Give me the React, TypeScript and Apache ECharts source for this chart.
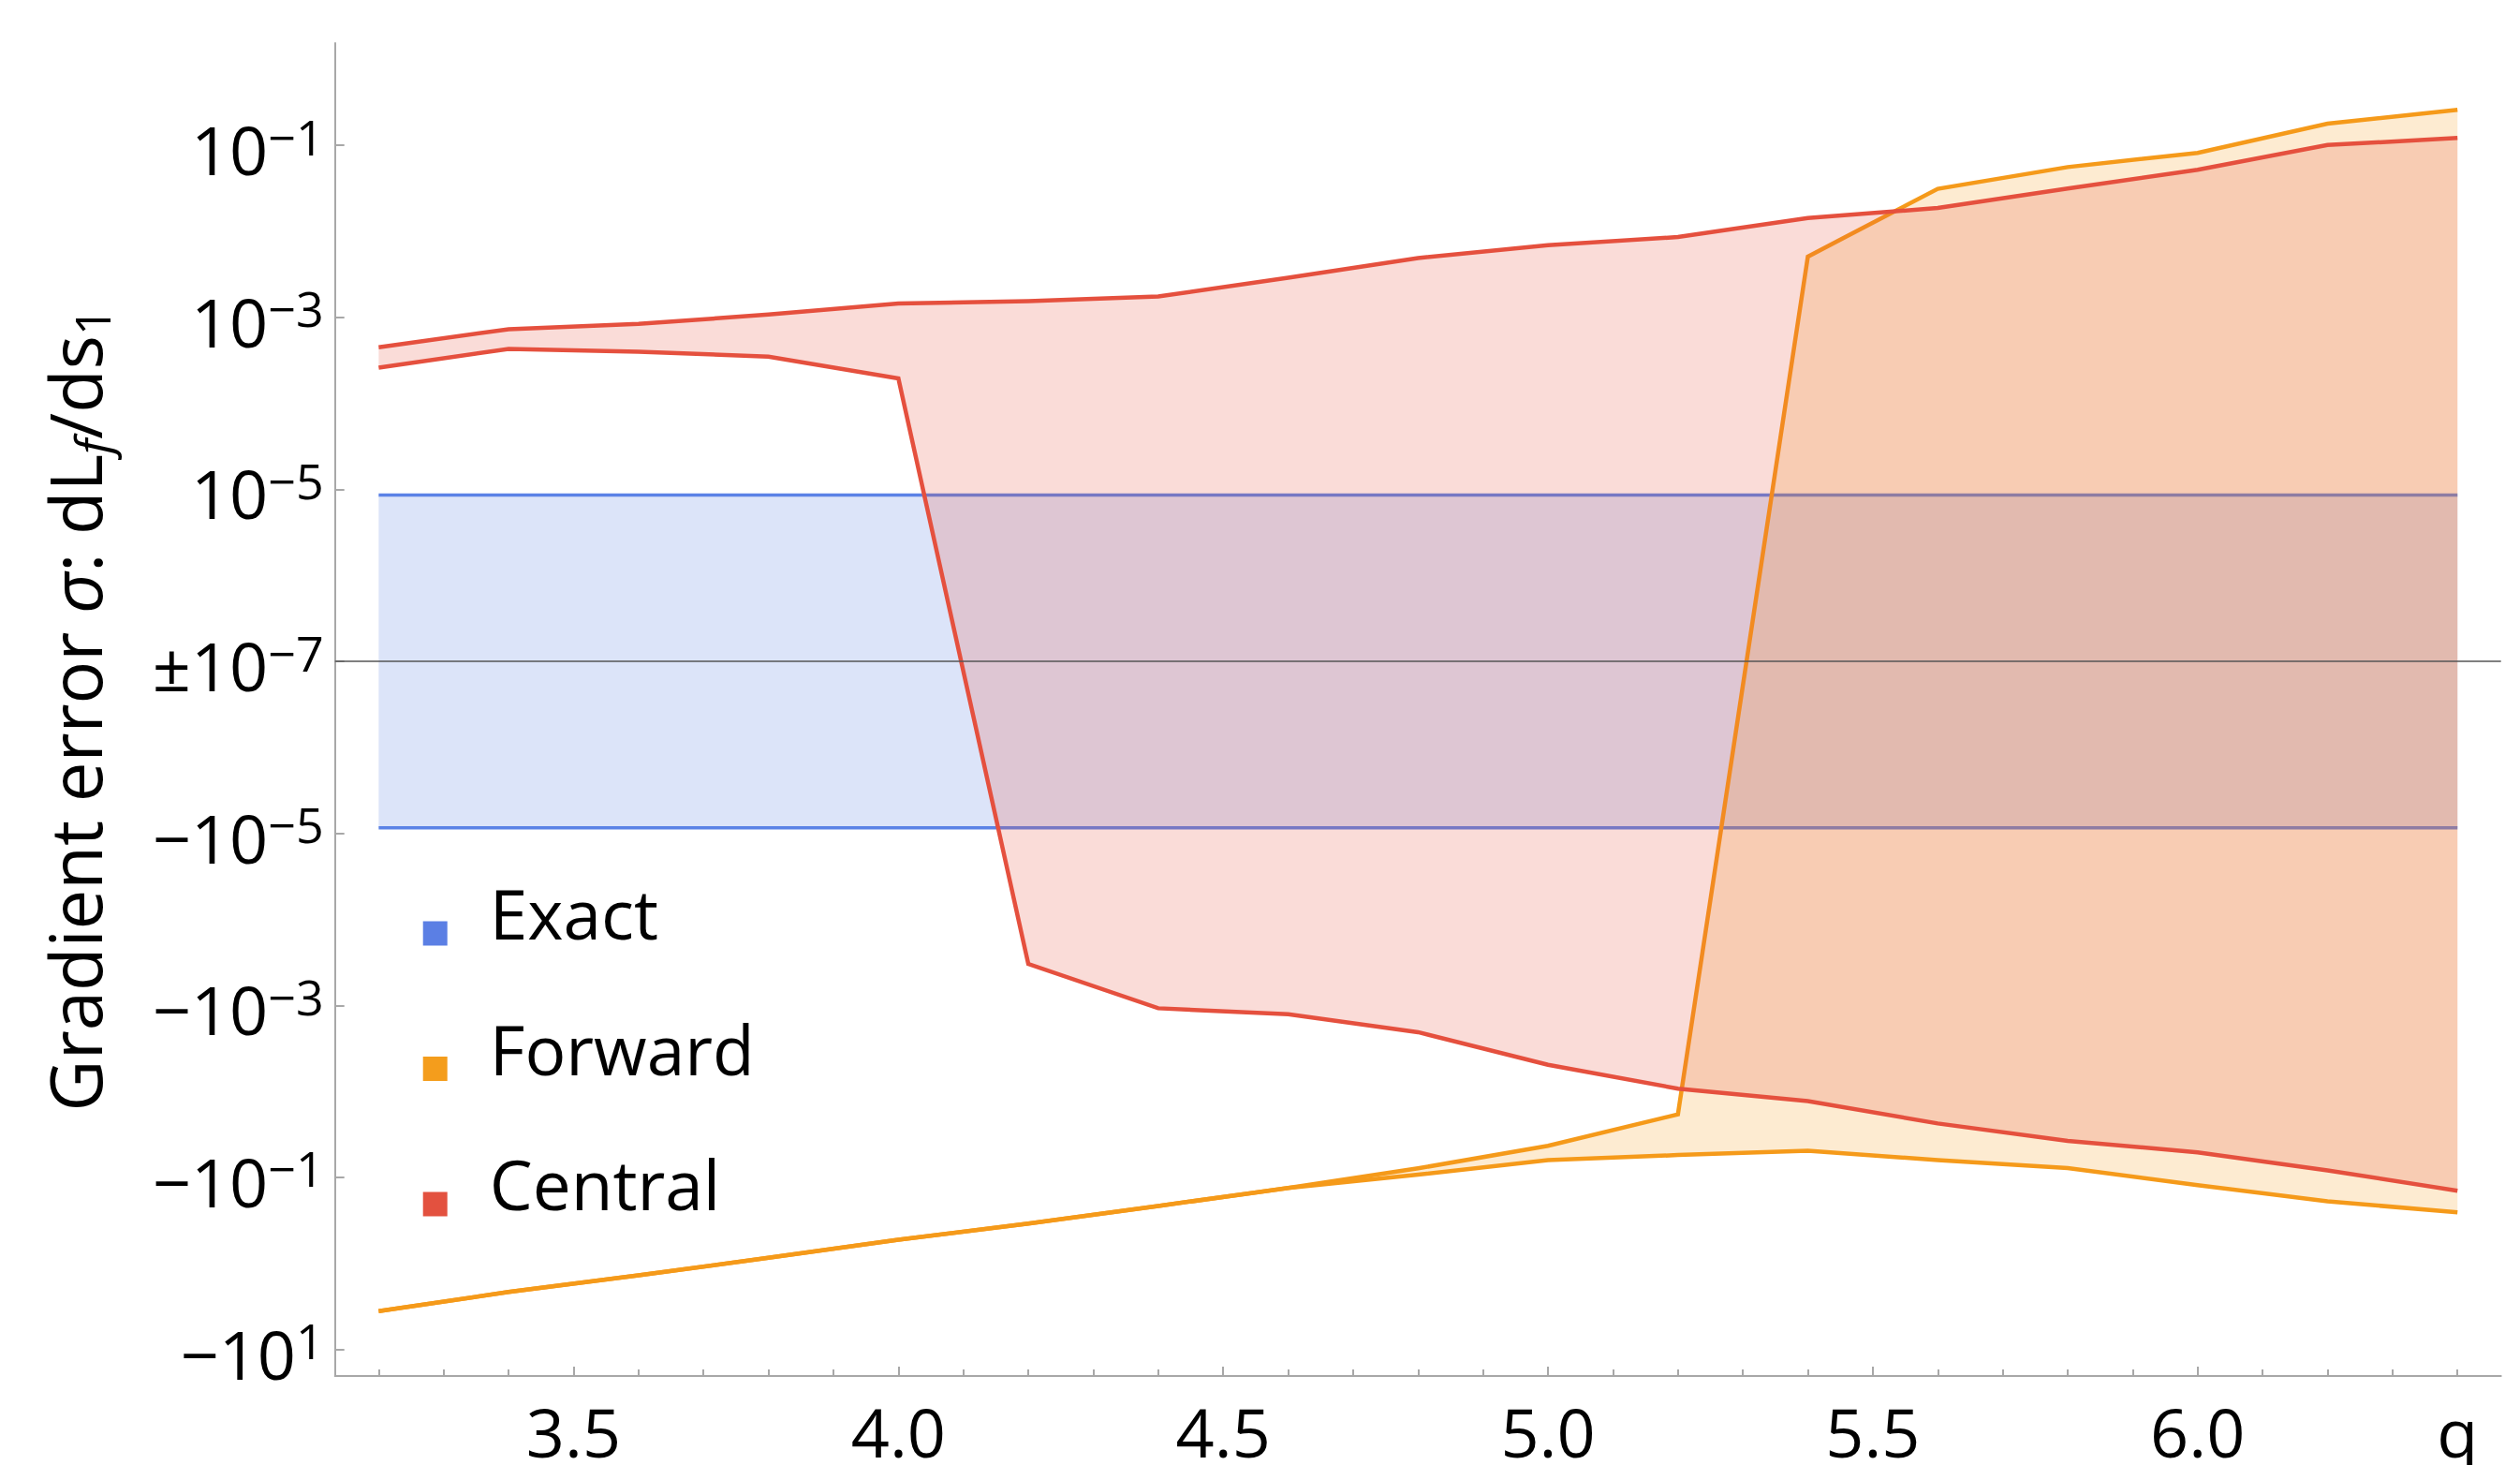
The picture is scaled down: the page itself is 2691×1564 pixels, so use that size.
import React, { useEffect, useRef } from "react";
import * as echarts from "echarts";

// ---------- data ----------
const qValues = [3.2, 3.4, 3.6, 3.8, 4.0, 4.2, 4.4, 4.6, 4.8, 5.0, 5.2, 5.4, 5.6, 5.8, 6.0, 6.2, 6.4];

const exactUpper = [8.6e-6, 8.6e-6, 8.6e-6, 8.6e-6, 8.6e-6, 8.6e-6, 8.6e-6, 8.6e-6, 8.6e-6, 8.6e-6, 8.6e-6, 8.6e-6, 8.6e-6, 8.6e-6, 8.6e-6, 8.6e-6, 8.6e-6];
const exactLower = [-8.6e-6, -8.6e-6, -8.6e-6, -8.6e-6, -8.6e-6, -8.6e-6, -8.6e-6, -8.6e-6, -8.6e-6, -8.6e-6, -8.6e-6, -8.6e-6, -8.6e-6, -8.6e-6, -8.6e-6, -8.6e-6, -8.6e-6];

const forwardUpper = [-3.6, -2.15, -1.38, -0.86, -0.53, -0.345, -0.215, -0.133, -0.0785, -0.043, -0.0185, 0.0051, 0.0313, 0.056, 0.082, 0.179, 0.26];
const forwardLower = [-3.6, -2.15, -1.38, -0.86, -0.53, -0.345, -0.215, -0.133, -0.093, -0.063, -0.055, -0.049, -0.063, -0.078, -0.123, -0.19, -0.255];

const centralUpper = [4.5e-4, 7.3e-4, 8.4e-4, 1.08e-3, 1.45e-3, 1.55e-3, 1.75e-3, 2.9e-3, 4.9e-3, 6.9e-3, 8.6e-3, 0.0143, 0.0187, 0.0315, 0.052, 0.101, 0.122];
const centralLower = [2.6e-4, 4.3e-4, 4.0e-4, 3.5e-4, 1.95e-4, -3.3e-4, -1.08e-3, -1.27e-3, -2.05e-3, -4.9e-3, -9.3e-3, -0.013, -0.0236, -0.0376, -0.0512, -0.083, -0.143];

// tick values / labels
const yTickValues = [1e-1, 1e-3, 1e-5, 1e-7, -1e-5, -1e-3, -1e-1, -1e1];
const yTickLabels = ["10^\u22121", "10^\u22123", "10^\u22125", "\u00b110^\u22127", "\u221210^\u22125", "\u221210^\u22123", "\u221210^\u22121", "\u221210^1"];
const xMajorTicks = [3.5, 4.0, 4.5, 5.0, 5.5, 6.0];
const xMinorTicks = [3.2, 3.3, 3.4, 3.5, 3.6, 3.7, 3.8, 3.9, 4.0, 4.1, 4.2, 4.3, 4.4, 4.5, 4.6, 4.7, 4.8, 4.9, 5.0, 5.1, 5.2, 5.3, 5.4, 5.5, 5.6, 5.7, 5.8, 5.9, 6.0, 6.1, 6.2, 6.3, 6.4];
const xLabelValues = [3.5, 4.0, 4.5, 5.0, 5.5, 6.0, 6.4];
const xLabelTexts = ["3.5", "4.0", "4.5", "5.0", "5.5", "6.0", "q"];

const legendNames = ["Exact", "Forward", "Central"];
const legendColors = ["#5B7FE4", "#F49D1C", "#E3513F"];

// ---------- helpers ----------
const FONT = "'Open Sans', 'Noto Sans', sans-serif";
const X_MIN = 3.1327;
const X_MAX = 6.467;

// symmetric log transform: +-1e-7 maps to 0, one unit per decade
function u(v: number): number {
  return Math.sign(v) * (Math.log10(Math.abs(v)) + 7);
}

function bandSeries(
  name: string,
  lower: number[],
  upper: number[],
  color: string,
  fill: string,
  width: number,
  z: number
): any {
  const data = qValues.map((q, i) => [q, u(lower[i]), u(upper[i])]);
  return {
    name,
    type: "custom",
    z,
    silent: true,
    clip: true,
    itemStyle: { color },
    encode: { x: 0, y: [1, 2] },
    data,
    renderItem: (params: any, api: any) => {
      if (params.dataIndex !== 0) return null;
      const up = data.map((d) => api.coord([d[0], d[2]]));
      const lo = data.map((d) => api.coord([d[0], d[1]]));
      const poly = up.concat(lo.slice().reverse());
      return {
        type: "group",
        children: [
          { type: "polygon", shape: { points: poly }, style: { fill, stroke: null }, z2: 0 },
          { type: "polyline", shape: { points: lo }, style: { stroke: color, lineWidth: width, fill: null, lineJoin: "miter" }, z2: 1 },
          { type: "polyline", shape: { points: up }, style: { stroke: color, lineWidth: width, fill: null, lineJoin: "miter" }, z2: 1 },
        ],
      };
    },
  };
}

export default function App() {
  const ref = useRef<HTMLDivElement>(null);

  useEffect(() => {
    if (!ref.current) return;
    const chart = echarts.init(ref.current, null, { renderer: "svg" });
    const yPos = yTickValues.map(u);
    const axisGray = "#a8a8a8";

    const series: any[] = [
      bandSeries("Exact", exactLower, exactUpper, "#5B82E6", "rgba(91,127,228,0.21)", 3.5, 2),
      bandSeries("Forward", forwardLower, forwardUpper, "#F59A1A", "rgba(245,155,25,0.2)", 4.5, 3),
      bandSeries("Central", centralLower, centralUpper, "#E5503E", "rgba(228,80,62,0.2)", 4.5, 4),
      {
        name: "zero",
        type: "custom",
        z: 5,
        silent: true,
        data: [[X_MIN, 0]],
        renderItem: (params: any, api: any) => {
          const a = api.coord([X_MIN, 0]);
          const b = api.coord([X_MAX, 0]);
          return {
            type: "line",
            shape: { x1: a[0], y1: a[1], x2: b[0], y2: b[1] },
            style: { stroke: "#555555", lineWidth: 1.5 },
          };
        },
      },
    ];

    const option: any = {
      animation: false,
      backgroundColor: "#ffffff",
      grid: { left: 357.7, right: 20.3, top: 46, bottom: 88.3, containLabel: false },
      legend: legendNames.map((name, i) => ({
        data: [{ name, itemStyle: { color: legendColors[i], borderWidth: 0 } }],
        left: 451.7,
        top: [938, 1082.5, 1227][i],
        orient: "vertical",
        padding: 0,
        icon: "path://M0 0M0 44h26v26h-26z",
        itemWidth: 26,
        itemHeight: 70,
        selectedMode: false,
        textStyle: { fontSize: 73, fontFamily: FONT, color: "#000", lineHeight: 70, padding: [0, 0, 0, 40] },
      })),
      xAxis: [
        {
          type: "value",
          min: X_MIN,
          max: X_MAX,
          position: "bottom",
          axisLine: { show: true, onZero: false, lineStyle: { color: axisGray, width: 2 } },
          axisTick: { show: true, inside: true, length: 10, customValues: xMajorTicks, lineStyle: { color: axisGray, width: 2 } },
          axisLabel: {
            customValues: xLabelValues,
            formatter: (v: number) => {
              let best = 0;
              xLabelValues.forEach((x, i) => {
                if (Math.abs(x - v) < Math.abs(xLabelValues[best] - v)) best = i;
              });
              return xLabelTexts[best];
            },
            fontSize: 72,
            fontFamily: FONT,
            color: "#000",
            margin: 23,
          },
          splitLine: { show: false },
        },
        {
          type: "value",
          min: X_MIN,
          max: X_MAX,
          position: "bottom",
          axisLine: { show: false, onZero: false },
          axisTick: { show: true, inside: true, length: 7, customValues: xMinorTicks, lineStyle: { color: axisGray, width: 2 } },
          axisLabel: { show: false },
          splitLine: { show: false },
        },
      ],
      yAxis: {
        type: "value",
        min: -8.31,
        max: 7.19,
        axisLine: { show: true, onZero: false, lineStyle: { color: axisGray, width: 2 } },
        axisTick: { show: true, inside: true, length: 10, customValues: yPos, lineStyle: { color: axisGray, width: 2 } },
        axisLabel: {
          customValues: yPos,
          margin: 12,
          padding: [8, 0, 0, 0],
          formatter: (v: number) => {
            let best = 0;
            yPos.forEach((p, i) => {
              if (Math.abs(p - v) < Math.abs(yPos[best] - v)) best = i;
            });
            const [base, exp] = yTickLabels[best].split("^");
            return "{n|" + base + "}{s|" + exp + "}";
          },
          rich: {
            n: { fontSize: 72, fontFamily: FONT, color: "#000", lineHeight: 80 },
            s: { fontSize: 52, fontFamily: FONT, color: "#000", lineHeight: 26, verticalAlign: "top" },
          },
        },
        splitLine: { show: false },
        name: "{n|Gradient error }{i|\u03c3}{n|: dL}{si|f}{n|/ds}{sb|1}",
        nameLocation: "middle",
        nameRotate: 90,
        nameGap: 234,
        nameTextStyle: {
          rich: {
            n: { fontSize: 76, fontFamily: FONT, color: "#000", lineHeight: 82, verticalAlign: "top" },
            i: { fontSize: 76, fontFamily: FONT, color: "#000", lineHeight: 82, verticalAlign: "top", fontStyle: "italic" },
            si: { fontSize: 52, fontFamily: FONT, color: "#000", lineHeight: 20, verticalAlign: "bottom", fontStyle: "italic" },
            sb: { fontSize: 52, fontFamily: FONT, color: "#000", lineHeight: 20, verticalAlign: "bottom" },
          },
        },
      },
      series,
    };
    chart.setOption(option);
    return () => chart.dispose();
  }, []);

  return (
    <div
      ref={ref}
      style={{ position: "fixed", left: 0, top: 0, width: 2691, height: 1564, background: "#fff" }}
    />
  );
}
